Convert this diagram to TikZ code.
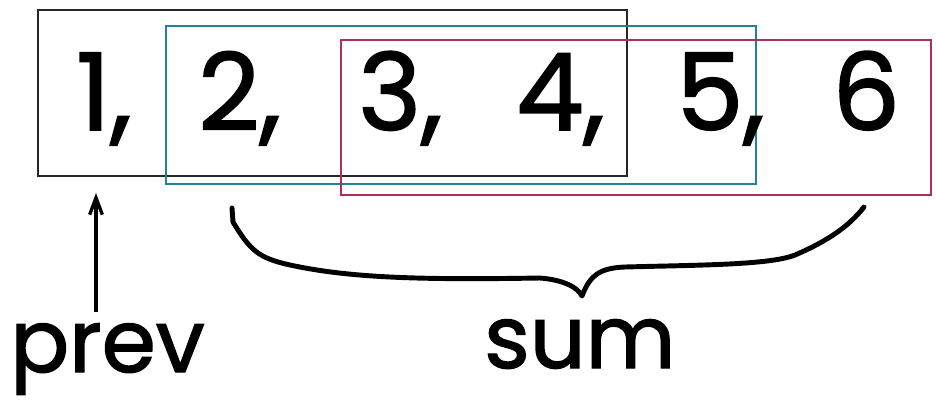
\documentclass[tikz,border=0pt]{standalone}
\usepackage{fontspec}
\setmainfont{Poppins}
\newfontfamily\markfont[FakeBold=1.6]{Poppins}
\usetikzlibrary{calc, arrows.meta}
\definecolor{winteal}{RGB}{35,130,150}
\definecolor{winrose}{RGB}{175,45,95}

\begin{document}
\begin{tikzpicture}[x=0.025cm, y=-0.025cm,
    num/.style={inner sep=0pt, anchor=base west, font=\fontsize{76}{80}\markfont},
    word/.style={inner sep=0pt, anchor=base west, font=\fontsize{62}{66}\markfont},
    win/.style={line width=1pt}]
                \useasboundingbox (0,0) rectangle (936,416);
                % the three windows
                \coordinate (A) at (38,10);
                \coordinate (B) at (166,26);
                \coordinate (C) at (341,40);
                \draw[win, black!85] (A) rectangle ($(A)+(589,166)$);
                \draw[win, winteal] (B) rectangle ($(B)+(590,158)$);
                \draw[win, winrose] (C) rectangle ($(C)+(590,155)$);
                % numbers
                \node[num] (n1) at (76,130) {1,};
                \node[num] (n2) at (198,130) {2,};
                \node[num] (n3) at (358,130) {3,};
                \node[num] (n4) at (516,130) {4,};
                \node[num] (n5) at (676,130) {5,};
                \node[num] (n6) at (832,130) {6};
                % labels
                \node[word] (prev) at (10,372) {prev};
                \node[word] (sum) at (484,368) {sum};
                \coordinate (tip) at (96,193);
                \draw[line width=2.4pt, -{Straight Barb[length=12pt, width=9pt]}]
                    ([yshift=8pt]prev.north -| tip) -- (tip);
                \coordinate (braceL) at (232,208);
                \coordinate (braceM) at (582,296);
                \coordinate (braceR) at (864,207);
                \draw[line width=3.5pt, line cap=round, line join=round]
                    (braceL) -- ++(1,14) .. controls (250,250) and (258,258) .. (290,265)
                    .. controls (350,278) and (420,280) .. (540,278)
                    .. controls (565,280) and (578,288) .. (braceM)
                    .. controls (590,275) and (600,268) .. (625,267)
                    .. controls (700,265) and (770,265) .. (795,255)
                    .. controls (830,240) and (850,225) .. (braceR);
            \end{tikzpicture}
\end{document}
